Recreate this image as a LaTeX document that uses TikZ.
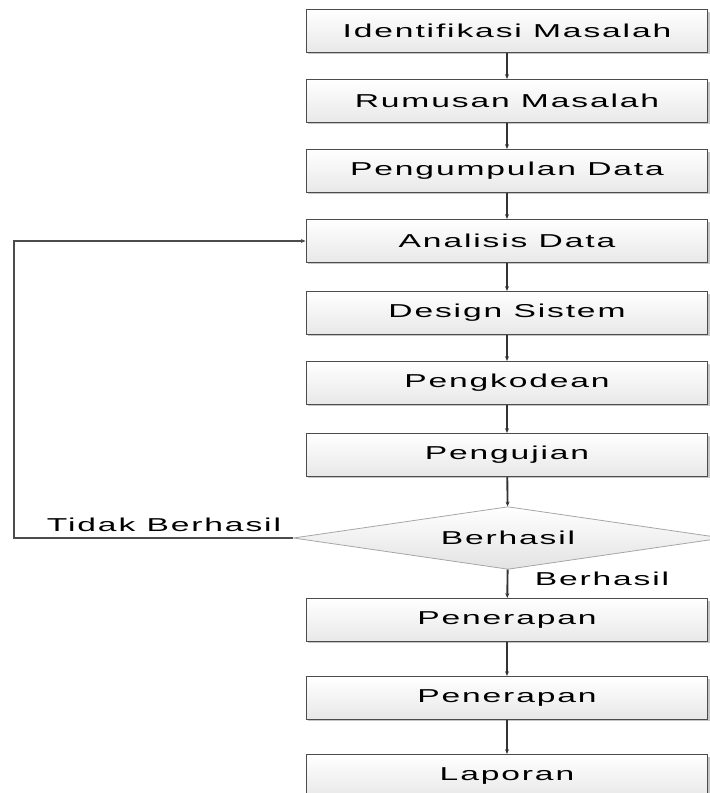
\documentclass[tikz,border=0pt]{standalone}
\usepackage{fontspec}
\setmainfont{Liberation Sans}[FakeStretch=1.8,LetterSpace=10]
\usetikzlibrary{shapes.geometric,arrows.meta,shadows}

\tikzset{
  stepbox/.style={draw=gray!60!black, line width=1.2pt, rectangle,
    minimum width=301pt, minimum height=32pt, inner sep=0pt,
    top color=white, bottom color=gray!18,
    drop shadow={shadow xshift=1.5pt, shadow yshift=-1.5pt, fill=gray!45, opacity=1},
    font=\fontsize{14}{16}\selectfont},
  decbox/.style={draw=gray!70, line width=0.6pt, diamond, aspect=6.8,
    minimum width=322pt, minimum height=47pt, inner sep=0pt,
    top color=white, bottom color=gray!22,
    font=\fontsize{14}{16}\selectfont},
  flow/.style={draw=gray!40!black, line width=1.4pt, -{Stealth[length=3.5pt,width=3pt]}},
  lbl/.style={font=\fontsize{14}{16}\selectfont, inner sep=0pt}
}

\begin{document}
\begin{tikzpicture}[x=0.75pt, y=-0.75pt]
\useasboundingbox (0,0) rectangle (710,793);
% langkah-langkah
\node[stepbox] (ident) at (507,31) {Identifikasi Masalah};
\node[stepbox] (rumus) at (507,101) {Rumusan Masalah};
\node[stepbox] (kumpul) at (507,171) {Pengumpulan Data};
\node[stepbox] (anal) at (507,241) {Analisis Data};
\node[stepbox] (design) at (507,313) {Design Sistem};
\node[stepbox] (kode) at (507,383) {Pengkodean};
\node[stepbox] (uji) at (507,455) {Pengujian};
\node[decbox] (hasil) at (508,538) {Berhasil};
\node[stepbox] (terap) at (507,620) {Penerapan};
\node[stepbox] (terapb) at (507,698) {Penerapan};
\node[stepbox] (lapor) at (507,776) {Laporan};
% panah
\draw[flow] (ident) -- (rumus);
\draw[flow] (rumus) -- (kumpul);
\draw[flow] (kumpul) -- (anal);
\draw[flow] (anal) -- (design);
\draw[flow] (design) -- (kode);
\draw[flow] (kode) -- (uji);
\draw[flow] (uji) -- (hasil);
\draw[flow] (hasil) -- (terap);
\draw[flow] (terap) -- (terapb);
\draw[flow] (terapb) -- (lapor);
% kembali ke analisis
\coordinate (balik) at (14,538);
\draw[draw=gray!60!black, line width=0.9pt, -{Stealth[length=3.5pt,width=3pt]}] (hasil.west) -- (balik) |- (anal.west);
\node[lbl] (gagal) at (164,525) {Tidak Berhasil};
\node[lbl] (sukses) at (602,579) {Berhasil};
\end{tikzpicture}
\end{document}
